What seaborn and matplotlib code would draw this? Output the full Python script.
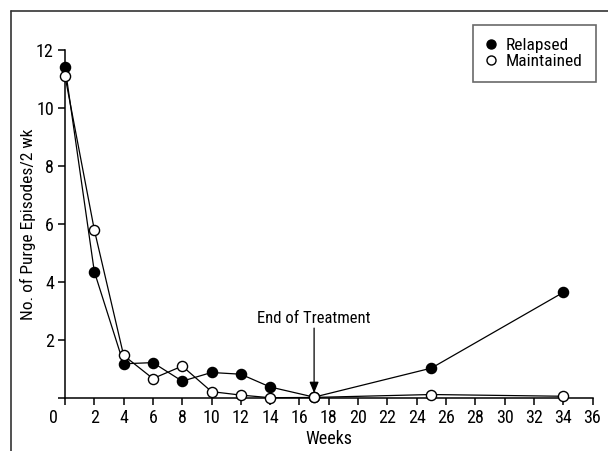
import numpy as np
import pandas as pd
import matplotlib
matplotlib.use("Agg")
import matplotlib.pyplot as plt
import matplotlib.transforms as mtransforms
from matplotlib.lines import Line2D
from matplotlib import font_manager
import seaborn as sns

weeks = [0, 2, 4, 6, 8, 10, 12, 14, 17, 25, 34]
relapsed = [11.42, 4.36, 1.18, 1.22, 0.58, 0.88, 0.82, 0.38, 0.03, 1.03, 3.64]
maintained = [11.1, 5.8, 1.47, 0.67, 1.1, 0.22, 0.1, 0.01, 0.02, 0.12, 0.06]
groups = ["Relapsed", "Maintained"]

df = pd.DataFrame({
    "week": weeks * 2,
    "episodes": relapsed + maintained,
    "group": [groups[0]] * len(weeks) + [groups[1]] * len(weeks),
})

names = {f.name for f in font_manager.fontManager.ttflist}
narrow = [n for n in ["Liberation Sans Narrow", "DejaVu Sans Condensed",
                      "Roboto Condensed", "Noto Sans Condensed",
                      "Open Sans Condensed", "Liberation Sans"] if n in names]

sns.set_style("ticks")
plt.rcParams["font.family"] = narrow[:1] + ["DejaVu Sans"]
plt.rcParams["font.stretch"] = "condensed"
plt.rcParams["font.size"] = 11
for k in ["text.color", "axes.labelcolor", "xtick.color", "ytick.color"]:
    plt.rcParams[k] = "black"

fig = plt.figure(figsize=(6.08, 4.51), dpi=100)
ax = fig.add_axes([65 / 608, 53 / 451, 527.5 / 608, 348 / 451])

face = {"Relapsed": "black", "Maintained": "white"}
for g in groups:
    sns.lineplot(data=df[df.group == g], x="week", y="episodes", ax=ax,
                 color="black", lw=0.9, marker="o", markersize=7.3,
                 markerfacecolor=face[g], markeredgecolor="black",
                 markeredgewidth=1.0, clip_on=False, legend=False, zorder=3)

ax.set_xlim(0, 36)
ax.set_ylim(0, 12)
ax.set_xticks(np.arange(0, 37, 2))
ax.set_yticks(np.arange(0, 13, 2))
ax.set_yticklabels([""] + [str(v) for v in range(2, 13, 2)])
ax.tick_params(axis="both", direction="out", length=5, width=1.1,
               labelsize=13, colors="black", pad=3)
# origin label sits left of the axis
lab0 = ax.get_xticklabels()[0]
lab0.set_transform(lab0.get_transform() +
                   mtransforms.ScaledTranslation(-12 / 100, 0, fig.dpi_scale_trans))

for s in ["top", "right"]:
    ax.spines[s].set_visible(False)
for s in ["left", "bottom"]:
    ax.spines[s].set_linewidth(1.1)
    ax.spines[s].set_color("black")

ax.set_xlabel("Weeks", fontsize=13, labelpad=2)
ax.set_ylabel("No. of Purge Episodes/2 wk", fontsize=12.5)
ax.yaxis.set_label_coords(-0.055, 0.5)

ax.annotate("", xy=(17, 0.17), xytext=(17, 2.41),
            arrowprops=dict(arrowstyle="-|>,head_length=0.6,head_width=0.25",
                            color="black", lw=0.9, shrinkA=0, shrinkB=0))
ax.text(17, 2.6, "End of Treatment", ha="center", va="baseline", fontsize=12)

handles = [Line2D([], [], ls="none", marker="o", markersize=6.5,
                  markerfacecolor=face[g], markeredgecolor="black",
                  markeredgewidth=1.0) for g in groups]
leg = ax.legend(handles, groups, loc="upper right",
                bbox_to_anchor=(596 / 608, (451 - 25) / 451),
                bbox_transform=fig.transFigure, fontsize=12.5,
                frameon=True, fancybox=False, borderpad=0.75,
                handlelength=0.6, handletextpad=0.55, labelspacing=0.05,
                borderaxespad=0)
leg.get_frame().set_edgecolor("#444444")
leg.get_frame().set_linewidth(1.2)

# outer figure frame (cropped at right and bottom)
fig.add_artist(Line2D([11 / 608, 11 / 608], [0, 440 / 451],
                      transform=fig.transFigure, color="#333333", lw=1.2))
fig.add_artist(Line2D([11 / 608, 1], [440 / 451, 440 / 451],
                      transform=fig.transFigure, color="#333333", lw=1.2))

fig.savefig("out.png", dpi=100)
